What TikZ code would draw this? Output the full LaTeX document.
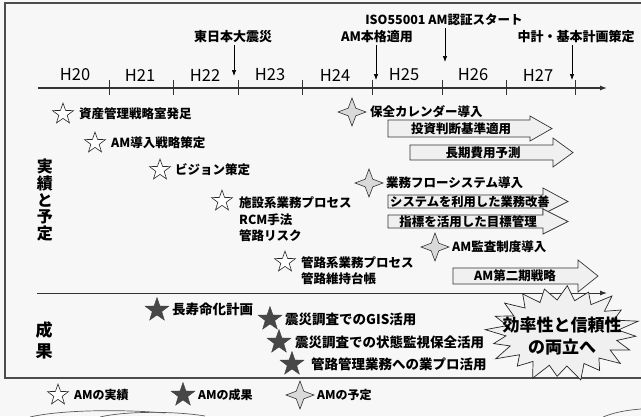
\documentclass[tikz,border=0pt]{standalone}
\usepackage{fontspec}
\setmainfont{Noto Sans CJK JP}
\usetikzlibrary{shapes.geometric,arrows.meta}
\newcommand\blockarr[7]{% x0, xb, xt, ytop, ybot, headtop, headbot
  \draw[barrow] (#1,#4) -- (#2,#4) -- (#2,#6) -- (#3,{(#4+#5)/2}) -- (#2,#7) -- (#2,#5) -- (#1,#5) -- cycle;}
\begin{document}
\begin{tikzpicture}[x=1pt,y=-1pt,
  lbl/.style={inner sep=0pt, anchor=west, font=\fontsize{12.5}{16.5}\selectfont\bfseries, align=left},
  res/.style={inner sep=0pt, anchor=west, font=\fontsize{13.5}{16}\selectfont\bfseries},
  leg/.style={inner sep=0pt, anchor=west, font=\fontsize{12}{14}\selectfont\bfseries},
  ev/.style={inner sep=0pt, font=\fontsize{13}{15}\selectfont\bfseries},
  yr/.style={inner sep=0pt, font=\fontsize{16.5}{18}\selectfont},
  ostar/.style={star, star points=5, star point ratio=2.5, minimum size=22pt, inner sep=0pt, draw=black!85, fill=white, line width=0.6pt},
  fstar/.style={star, star points=5, star point ratio=2.5, minimum size=25pt, inner sep=0pt, draw=black!75, fill=black!72, line width=0.4pt},
  dia/.style={star, star points=4, star point ratio=2.6, minimum size=28pt, inner sep=0pt, draw=black!80, fill=gray!30, line width=0.6pt},
  barrow/.style={draw=black!80, fill=gray!12, line width=0.7pt},
  atxt/.style={inner sep=0pt, font=\fontsize{12.5}{15}\selectfont\bfseries},
  axis/.style={line width=1.1pt, draw=black!80, -{Latex[length=7pt,width=5pt]}},
  tickmark/.style={line width=0.8pt, draw=black!80},
  evarrow/.style={line width=0.7pt, -{Latex[length=6pt,width=4.5pt]}, shorten <=2pt},
  frame/.style={line width=1.6pt, draw=black!70},
  burst/.style={draw=black!85, fill=gray!12, line width=0.7pt},
  curve/.style={line width=0.7pt, draw=black!65},
]
\fill[gray!6] (0,0) rectangle (641,416);
\useasboundingbox (0,0) rectangle (641,416);

% frame
\draw[frame] (641,3) -- (5,3) -- (5,378) -- (641,378);

% timeline
\coordinate (axS) at (38,88);
\coordinate (axE) at (607,88);
\draw[axis] (axS) -- (axE);
\foreach \t in {109,173,238,302,372,442,506,575} \draw[tickmark] (\t,80) -- (\t,95);
\node[yr] (y20) at (75,75) {H20};
\node[yr] (y21) at (140,75) {H21};
\node[yr] (y22) at (205,75) {H22};
\node[yr] (y23) at (270,75) {H23};
\node[yr] (y24) at (335,75) {H24};
\node[yr] (y25) at (404,75) {H25};
\node[yr] (y26) at (473,75) {H26};
\node[yr] (y27) at (538,75) {H27};

% events
\node[ev] (e1) at (233,37) {東日本大震災};
\coordinate (e1t) at (234,76);
\draw[evarrow] (e1.south -| e1t) -- (e1t);
\node[ev] (e2) at (377,37) {AM本格適用};
\coordinate (e2t) at (376,80);
\draw[evarrow] (e2.south -| e2t) -- (e2t);
\node[ev, font=\fontsize{12.5}{15}\selectfont\bfseries] (e3) at (444,20) {ISO55001 AM認証スタート};
\coordinate (e3t) at (445,62);
\draw[evarrow] (e3.south -| e3t) -- (e3t);
\node[ev] (e4) at (576,37) {中計・基本計画策定};
\coordinate (e4t) at (572,80);
\draw[evarrow] (e4.south -| e4t) -- (e4t);

% side labels
\node[inner sep=0pt, align=center, font=\fontsize{16}{16.6}\selectfont\bfseries] (jl) at (45,200) {実\\績\\と\\予\\定};
\node[inner sep=0pt, align=center, font=\fontsize{17}{21}\selectfont\bfseries] (sl) at (44,340) {成\\果};

% results (outline stars)
\node[ostar] (s1) at (63,114) {};
\node[lbl] (t1) at (79,114) {資産管理戦略室発足};
\node[ostar] (s2) at (95,143) {};
\node[lbl] (t2) at (111,143) {AM導入戦略策定};
\node[ostar] (s3) at (160,170) {};
\node[lbl] (t3) at (175,170) {ビジョン策定};
\node[ostar] (s4) at (222,201) {};
\node[lbl] (t4) at (239,219.5) {施設系業務プロセス\\RCM手法\\管路リスク};
\node[ostar] (s5) at (285,262) {};
\node[lbl] (t5) at (301,270.5) {管路系業務プロセス\\管路維持台帳};

% plans (diamonds)
\node[dia] (d1) at (352,112) {};
\node[lbl] (t6) at (370,112) {保全カレンダー導入};
\node[dia] (d2) at (369,183) {};
\node[lbl] (t7) at (386,183) {業務フローシステム導入};
\node[dia] (d3) at (435,247) {};
\node[lbl] (t8) at (452,247) {AM監査制度導入};

% block arrows
\blockarr{388}{530}{552}{120}{137}{116}{141}
\node[atxt] (a1) at (461,128.5) {投資判断基準適用};
\blockarr{410}{553}{573}{145}{160}{138}{167}
\node[atxt] (a2) at (483,152.5) {長期費用予測};
\blockarr{388}{543}{568}{195}{208}{188}{214}
\node[atxt, font=\fontsize{12.3}{15}\selectfont\bfseries] (a3) at (470,201.5) {システムを利用した業務改善};
\blockarr{388}{543}{568}{215}{228}{209}{234}
\node[atxt] (a4) at (468,221.5) {指標を活用した目標管理};
\blockarr{453}{578}{598}{268}{284}{260}{292}
\node[atxt] (a5) at (515,276) {AM第二期戦略};

% separator
\coordinate (sepS) at (37,293);
\coordinate (sepE) at (607,293);
\draw[axis, line width=0.9pt] (sepS) -- (sepE);

% outcomes (filled stars)
\node[fstar] (f1) at (157,310) {};
\node[res] (t9) at (172,309) {長寿命化計画};
\node[fstar] (f2) at (270,319) {};
\node[res] (t10) at (285,319) {震災調査でのGIS活用};
\node[fstar] (f3) at (279,342) {};
\node[res] (t11) at (295,342) {震災調査での状態監視保全活用};
\node[fstar] (f4) at (292,364) {};
\node[res] (t12) at (311,364) {管路管理業務への業プロ活用};

% starburst
\draw[burst] plot[samples at={0,...,39}] ({562+74*(mod(\x,2)==0 ? 1+0.06*sin(\x*97) : 0.76)*cos(\x*9+4)}, {333+46*(mod(\x,2)==0 ? 1+0.06*sin(\x*97) : 0.72)*sin(\x*9+4)}) -- cycle;
\node[inner sep=0pt, align=center, font=\fontsize{17}{22}\selectfont\bfseries] (burst) at (562,336) {効率性と信頼性\\の両立へ};

% legend
\node[ostar] (l1) at (58,395) {};
\node[leg] (lt1) at (74,395) {AMの実績};
\node[fstar] (l2) at (183,395) {};
\node[leg] (lt2) at (198,395) {AMの成果};
\node[dia] (l3) at (300,395) {};
\node[leg] (lt3) at (317,395) {AMの予定};

% partial curves at bottom edge
\draw[curve] (30,417) .. controls (60,410) and (120,409) .. (165,413);
\draw[curve] (100,417) .. controls (125,411) and (175,411) .. (205,416);
\draw[curve] (603,417) .. controls (615,412) and (628,410) .. (641,409);
\end{tikzpicture}
\end{document}
